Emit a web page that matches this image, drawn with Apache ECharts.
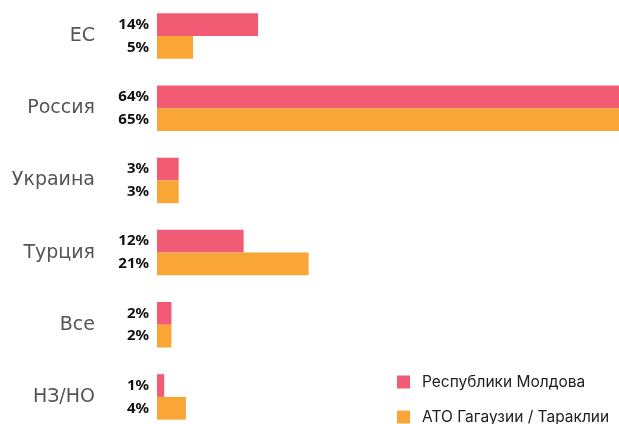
<!DOCTYPE html>
<html>
<head>
<meta charset="utf-8">
<script src="https://cdn.jsdelivr.net/npm/echarts@6/dist/echarts.min.js"></script>
<style>
  html, body { margin: 0; padding: 0; background: #fff; overflow: hidden; }
  #chart { width: 619px; height: 433px; }
</style>
</head>
<body>
<div id="chart"></div>
<script>
// Countries / answers, top to bottom
const categories = ['ЕС', 'Россия', 'Украина', 'Турция', 'Все', 'НЗ/НО'];
const seriesNames = ['Республики Молдова', 'АТО Гагаузии / Тараклии'];
const moldova = [14, 64, 3, 12, 2, 1];
const gagauzia = [5, 65, 3, 21, 2, 4];

const colors = ['#F15B73', '#F9A636'];

const chart = echarts.init(document.getElementById('chart'), null, { renderer: 'canvas' });

const valueLabel = {
  show: true,
  position: 'left',
  distance: 8,
  formatter: '{c}%',
  color: '#111',
  fontFamily: 'Noto Sans',
  fontWeight: 'bold',
  fontSize: 15
};

// one legend block per series, stacked in the lower right corner
const legendBlock = (name, top) => ({
  left: 397,
  top: top,
  padding: 0,
  itemWidth: 13,
  itemHeight: 13,
  icon: 'rect',
  textStyle: { fontFamily: 'Inter', fontSize: 15.5, color: '#222', padding: [0, 0, 0, 7] },
  data: [name]
});

chart.setOption({
  animation: false,
  grid: { left: 157, right: 0, top: -1, bottom: 0, containLabel: false },
  legend: [legendBlock(seriesNames[0], 374), legendBlock(seriesNames[1], 409)],
  xAxis: {
    type: 'value',
    min: 0,
    max: 64,
    show: false
  },
  yAxis: {
    type: 'category',
    data: categories,
    inverse: true,
    axisLine: { show: false },
    axisTick: { show: false },
    axisLabel: {
      margin: 62,
      fontFamily: 'DejaVu Sans',
      fontSize: 19,
      color: '#555'
    }
  },
  series: [
    {
      name: seriesNames[0],
      type: 'bar',
      data: moldova,
      itemStyle: { color: colors[0] },
      barGap: '0%',
      barCategoryGap: '37%',
      label: valueLabel
    },
    {
      name: seriesNames[1],
      type: 'bar',
      data: gagauzia,
      itemStyle: { color: colors[1] },
      barGap: '0%',
      barCategoryGap: '37%',
      label: valueLabel
    }
  ]
});
</script>
</body>
</html>
